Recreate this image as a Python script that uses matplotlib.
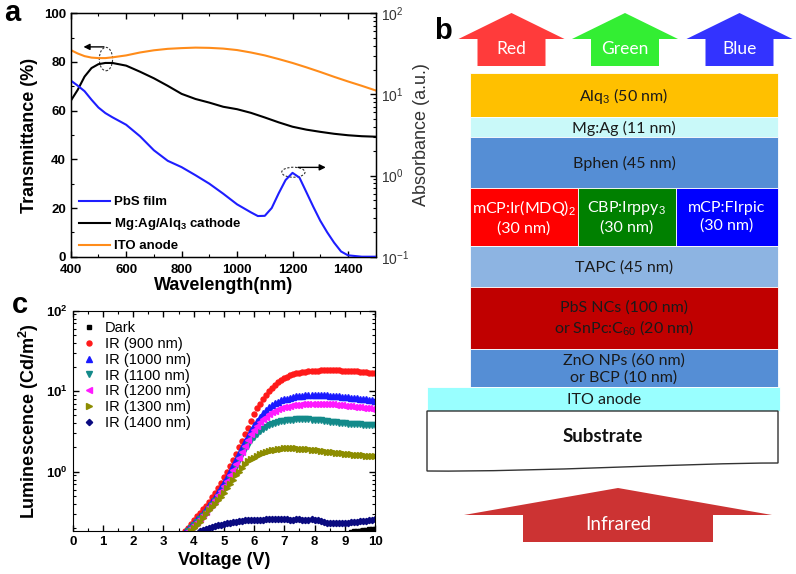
import matplotlib
matplotlib.use('Agg')
import matplotlib.pyplot as plt
import numpy as np
from matplotlib.patches import Polygon, Rectangle, Ellipse, PathPatch
from matplotlib.path import Path
from matplotlib.ticker import MultipleLocator, LogLocator, FuncFormatter, NullFormatter

plt.rcParams['font.family'] = ['Liberation Sans', 'DejaVu Sans']
plt.rcParams['mathtext.fontset'] = 'custom'
plt.rcParams['mathtext.rm'] = 'Liberation Sans'
plt.rcParams['mathtext.it'] = 'Liberation Sans:italic'
plt.rcParams['mathtext.bf'] = 'Liberation Sans:bold'

# ---------------- Panel a data ----------------
wl_T = [400, 425, 450, 475, 500, 525, 550, 600, 650, 700, 750, 800, 850, 900, 950,
        1000, 1050, 1100, 1150, 1200, 1250, 1300, 1350, 1400, 1450, 1500]
T_cathode = [64.0, 68.5, 74.0, 77.5, 79.1, 79.6, 79.6, 78.5, 76.0, 73.3, 70.2, 66.9, 64.8,
             63.3, 61.6, 60.6, 59.1, 57.2, 55.2, 53.4, 52.2, 51.3, 50.5, 49.9, 49.5, 49.3]
T_ito = [84.9, 83.5, 82.4, 81.8, 81.6, 81.6, 81.9, 82.7, 83.9, 84.8, 85.4, 85.7, 85.9,
         85.8, 85.5, 84.9, 83.9, 82.7, 81.2, 79.6, 77.8, 75.9, 73.9, 72.0, 70.2, 68.3]

wl_A = [400, 425, 450, 475, 500, 525, 550, 600, 650, 700, 750, 800, 850, 900, 950, 1000,
        1050, 1075, 1100, 1125, 1150, 1175, 1200, 1225, 1250, 1275, 1300, 1325, 1350,
        1375, 1400, 1450, 1500]
A_pbs = [14.86, 12.85, 10.96, 8.61, 6.90, 5.89, 5.24, 4.23, 3.05, 2.05, 1.52, 1.27, 1.01,
         0.794, 0.598, 0.442, 0.352, 0.317, 0.319, 0.398, 0.603, 0.881, 1.08, 0.944, 0.624,
         0.412, 0.278, 0.200, 0.149, 0.116, 0.104, 0.100, 0.100]

legend_a = ['PbS film', r'Mg:Ag/Alq$_\mathbf{3}$ cathode', 'ITO anode']

# ---------------- Panel c data ----------------
volt = np.round(np.arange(0, 10.05, 0.1), 1)
lum_start = {'Dark': 9.2, '900': 3.6, '1000': 3.7, '1100': 3.8, '1200': 3.8, '1300': 3.9, '1400': 4.2}
lum_dark = [0.180, 0.182, 0.184, 0.186, 0.188, 0.190, 0.192, 0.193, 0.194]
lum_900 = [0.17, 0.185, 0.20, 0.225, 0.25, 0.28, 0.31, 0.34, 0.38, 0.42, 0.48, 0.55, 0.63, 0.73,
           0.85, 1.0, 1.18, 1.4, 1.68, 2.0, 2.4, 2.9, 3.5, 4.3, 5.2, 6.1, 7.0, 7.9, 8.9, 10.0,
           11.0, 12.0, 12.9, 13.7, 14.5, 15.1, 15.7, 16.2, 16.6, 17.0, 17.3, 17.5, 17.7, 17.9,
           18.0, 18.0, 18.1, 18.1, 18.2, 18.2, 18.2, 18.1, 18.1, 18.0, 18.0, 17.9, 17.8, 17.7,
           17.6, 17.5, 17.3, 17.2, 17.0, 16.9, 16.7]
lum_1000 = [0.18, 0.195, 0.21, 0.23, 0.255, 0.28, 0.31, 0.345, 0.385, 0.43, 0.49, 0.56, 0.65,
            0.75, 0.87, 1.02, 1.2, 1.42, 1.7, 2.0, 2.4, 2.8, 3.3, 3.8, 4.3, 4.8, 5.3, 5.8, 6.3,
            6.7, 7.1, 7.4, 7.7, 7.9, 8.1, 8.3, 8.45, 8.6, 8.7, 8.8, 8.9, 8.95, 9.0, 9.0, 9.0,
            8.95, 8.9, 8.85, 8.8, 8.75, 8.7, 8.6, 8.55, 8.5, 8.4, 8.35, 8.25, 8.2, 8.1, 8.0,
            7.9, 7.8, 7.7, 7.6]
lum_1100 = [0.185, 0.2, 0.215, 0.235, 0.255, 0.28, 0.31, 0.345, 0.385, 0.43, 0.48, 0.54, 0.61,
            0.7, 0.81, 0.95, 1.15, 1.4, 1.65, 1.9, 2.15, 2.45, 2.7, 2.95, 3.2, 3.4, 3.6, 3.8,
            3.95, 4.05, 4.15, 4.25, 4.3, 4.35, 4.4, 4.45, 4.5, 4.5, 4.5, 4.48, 4.46, 4.43, 4.4,
            4.37, 4.33, 4.29, 4.25, 4.2, 4.15, 4.1, 4.07, 4.04, 4.0, 3.97, 3.94, 3.92, 3.9,
            3.88, 3.85, 3.82, 3.8, 3.77, 3.75]
lum_1200 = [0.185, 0.2, 0.215, 0.235, 0.26, 0.29, 0.32, 0.36, 0.4, 0.45, 0.51, 0.58, 0.66,
            0.77, 0.9, 1.05, 1.25, 1.5, 1.75, 2.1, 2.5, 2.9, 3.3, 3.7, 4.1, 4.5, 4.85, 5.2, 5.5,
            5.75, 5.95, 6.15, 6.3, 6.45, 6.55, 6.65, 6.75, 6.8, 6.85, 6.9, 6.95, 7.0, 7.0, 7.0,
            6.95, 6.95, 6.9, 6.9, 6.85, 6.8, 6.75, 6.7, 6.6, 6.55, 6.5, 6.45, 6.35, 6.3, 6.2,
            6.15, 6.1, 6.05, 6.0]
lum_1300 = [0.185, 0.2, 0.22, 0.24, 0.265, 0.295, 0.33, 0.36, 0.4, 0.44, 0.49, 0.55, 0.62,
            0.7, 0.8, 0.9, 1.0, 1.12, 1.24, 1.35, 1.43, 1.5, 1.57, 1.64, 1.7, 1.75, 1.8, 1.85,
            1.88, 1.91, 1.93, 1.95, 1.96, 1.96, 1.95, 1.95, 1.94, 1.93, 1.92, 1.9, 1.88, 1.86,
            1.84, 1.82, 1.8, 1.78, 1.76, 1.74, 1.72, 1.7, 1.69, 1.68, 1.66, 1.65, 1.63, 1.62,
            1.6, 1.59, 1.58, 1.57, 1.56, 1.55]
lum_1400 = [0.185, 0.19, 0.195, 0.2, 0.205, 0.21, 0.215, 0.22, 0.225, 0.23, 0.233, 0.237,
            0.24, 0.243, 0.247, 0.25, 0.251, 0.252, 0.252, 0.252, 0.253, 0.254, 0.255, 0.256,
            0.258, 0.26, 0.26, 0.259, 0.257, 0.255, 0.254, 0.254, 0.255, 0.255, 0.254, 0.253,
            0.254, 0.255, 0.254, 0.25, 0.243, 0.237, 0.232, 0.23, 0.229, 0.229, 0.23, 0.23,
            0.231, 0.233, 0.235, 0.237, 0.24, 0.242, 0.245, 0.247, 0.25, 0.253, 0.256]
lum_labels = ['Dark', 'IR (900 nm)', 'IR (1000 nm)', 'IR (1100 nm)', 'IR (1200 nm)',
              'IR (1300 nm)', 'IR (1400 nm)']

# ---------------- Panel b (schematic) ----------------
layer_names = [r'Alq$_3$ (50 nm)', 'Mg:Ag (11 nm)', 'Bphen (45 nm)', None,
               'TAPC (45 nm)', 'PbS NCs (100 nm)\nor SnPc:C$_{60}$ (20 nm)',
               'ZnO NPs (60 nm)\nor BCP (10 nm)', 'ITO anode']
layer_colors = ['#FFC000', '#C9F9F9', '#558ED5', None, '#8DB4E2', '#C00000', '#558ED5', '#99FFFF']
eml_names = [r'mCP:Ir(MDQ)$_2$' + '\n(30 nm)', r'CBP:Irppy$_3$' + '\n(30 nm)', 'mCP:FIrpic\n(30 nm)']
eml_colors = ['#FF0000', '#008000', '#0000FF']
emit_names = ['Red', 'Green', 'Blue']
emit_colors = ['#FF3B3B', '#33EE33', '#3333FF']

fig = plt.figure(figsize=(7.96, 5.74), dpi=100)

# schematic axes in pixel coordinates
axb = fig.add_axes([0, 0, 1, 1])
axb.set_xlim(0, 796)
axb.set_ylim(574, 0)
axb.axis('off')
axb.patch.set_alpha(0)

bfont = ['Lato', 'DejaVu Sans']
x0, x1 = 470, 778
ys = [73, 117, 137, 188, 246, 287, 349, 387, 411]
for i, (nm, col) in enumerate(zip(layer_names, layer_colors)):
    top, bot = ys[i], ys[i + 1]
    if nm is None:
        xs = [x0, 578, 676, x1]
        for j in range(3):
            axb.add_patch(Rectangle((xs[j], top), xs[j + 1] - xs[j], bot - top,
                                    facecolor=eml_colors[j], edgecolor='white', lw=0.6))
            axb.text((xs[j] + xs[j + 1]) / 2, (top + bot) / 2, eml_names[j], color='white',
                     ha='center', va='center', fontsize=11.5, family=bfont, linespacing=1.25)
        continue
    lx0, lx1 = (427, 780) if nm == 'ITO anode' else (x0, x1)
    axb.add_patch(Rectangle((lx0, top), lx1 - lx0, bot - top, facecolor=col,
                            edgecolor='white', lw=0.6))
    axb.text((lx0 + lx1) / 2 if nm != 'ITO anode' else 604, (top + bot) / 2 + 1, nm,
             color='#1a1a1a', ha='center', va='center', fontsize=11.5, family=bfont,
             linespacing=1.25)

# substrate
verts = [(427, 411), (778, 411), (778, 463), (690, 463), (540, 472), (427, 471), (427, 411)]
codes = [Path.MOVETO, Path.LINETO, Path.LINETO, Path.CURVE4, Path.CURVE4, Path.CURVE4, Path.CLOSEPOLY]
axb.add_patch(PathPatch(Path(verts, codes), facecolor='white', edgecolor='#333333', lw=1.0))
axb.text(603, 437, 'Substrate', ha='center', va='center', fontsize=13.5, fontweight='bold',
         family=bfont, color='#111111')


def up_arrow(cx, hw, sw, tip, base, bottom, color):
    pts = [(cx, tip), (cx + hw, base), (cx + sw, base), (cx + sw, bottom),
           (cx - sw, bottom), (cx - sw, base), (cx - hw, base)]
    axb.add_patch(Polygon(pts, closed=True, facecolor=color, edgecolor='none'))


centers = [511.5, 625, 739.5]
for cx, nm, col in zip(centers, emit_names, emit_colors):
    up_arrow(cx, 53, 34, 13, 39, 66, col)
    axb.text(cx, 49, nm, color='white', ha='center', va='center', fontsize=12.5, family=bfont)

up_arrow(618, 154, 95, 488, 515, 542, '#CC3333')
axb.text(618, 525, 'Infrared', color='white', ha='center', va='center', fontsize=13.5, family=bfont)

# ---------------- Panel a ----------------
ax = fig.add_axes([70.7 / 796, 1 - 256.7 / 574, 305 / 796, 243.4 / 574])
ax2 = ax.twinx()
l2, = ax.plot(wl_T, T_cathode, color='black', lw=1.5)
l3, = ax.plot(wl_T, T_ito, color='#FF8C1A', lw=1.5)
l1, = ax2.plot(wl_A, A_pbs, color='#1E1EFF', lw=1.5)
ax.set_xlim(400, 1500)
ax.set_ylim(0, 100)
ax2.set_yscale('log')
ax2.set_ylim(0.1, 100)
ax.xaxis.set_major_locator(MultipleLocator(200))
ax.xaxis.set_minor_locator(MultipleLocator(100))
ax.yaxis.set_major_locator(MultipleLocator(20))
ax.yaxis.set_minor_locator(MultipleLocator(10))
ax.tick_params(which='both', direction='in', top=True, labelsize=9.5)
ax.tick_params(axis='x', pad=5)
ax.tick_params(which='major', length=4, width=1)
ax.tick_params(which='minor', length=2.5, width=0.8)
for t in ax.get_xticklabels() + ax.get_yticklabels():
    t.set_fontweight('bold')
ax2.tick_params(which='both', direction='in', labelsize=10, labelcolor='#333333')
ax2.tick_params(which='major', length=4, width=1)
ax2.tick_params(which='minor', length=2.5, width=0.8)
ax2.yaxis.set_minor_locator(LogLocator(base=10, subs=np.arange(2, 10)))
ax2.yaxis.set_minor_formatter(NullFormatter())
ax.set_xlabel('Wavelength(nm)', fontsize=13, fontweight='bold', labelpad=1)
ax.set_ylabel('Transmittance (%)', fontsize=13, fontweight='bold', labelpad=4)
ax2.set_ylabel('Absorbance (a.u.)', fontsize=13, color='#333333', labelpad=3)
for s in ax.spines.values():
    s.set_linewidth(1.0)

leg = ax2.legend([l1, l2, l3], legend_a, loc='lower left', bbox_to_anchor=(0.0, -0.015),
                 frameon=False, prop={'weight': 'bold', 'size': 9.5}, handlelength=2.4,
                 handletextpad=0.3, labelspacing=0.6, borderaxespad=0.2)

# annotations (ellipses and arrows)
ax.add_patch(Ellipse((527, 81.2), 48, 9.6, fill=False, ls=(0, (2, 1.5)), lw=0.8, ec='#333333'))
ax.annotate('', xy=(436, 86.2), xytext=(530, 86.2),
            arrowprops=dict(arrowstyle='-|>', color='black', lw=1.0, mutation_scale=9))
ax.add_patch(Ellipse((1203, 34.7), 84, 4.1, fill=False, ls=(0, (2, 1.5)), lw=0.8, ec='#333333'))
ax.annotate('', xy=(1330, 36.7), xytext=(1210, 36.7),
            arrowprops=dict(arrowstyle='-|>', color='black', lw=1.0, mutation_scale=9))

# ---------------- Panel c ----------------
axc = fig.add_axes([72.7 / 796, 1 - 530.7 / 574, 302.3 / 796, 220 / 574])
series = [('Dark', lum_dark, 's', 'black', 3.2),
          ('900', lum_900, 'o', '#FF1A1A', 3.6),
          ('1000', lum_1000, '^', '#1A1AFF', 4.2),
          ('1100', lum_1100, 'v', '#138A8A', 4.2),
          ('1200', lum_1200, '<', '#FF1AFF', 4.2),
          ('1300', lum_1300, '>', '#8C8C00', 4.2),
          ('1400', lum_1400, 'D', '#0A0A80', 3.2)]
for (key, vals, mk, col, ms), lab in zip(series, lum_labels):
    i0 = int(round(lum_start[key] * 10))
    v = volt[i0:i0 + len(vals)]
    axc.plot(v, vals, ls='none', marker=mk, color=col, ms=ms, mec=col, label=lab, clip_on=True)
axc.set_yscale('log')
axc.set_xlim(0, 10)
axc.set_ylim(0.185, 100)
axc.xaxis.set_major_locator(MultipleLocator(1))
axc.xaxis.set_minor_locator(MultipleLocator(0.5))
axc.yaxis.set_major_locator(LogLocator(base=10))
axc.yaxis.set_minor_locator(LogLocator(base=10, subs=np.arange(2, 10)))
axc.yaxis.set_major_formatter(FuncFormatter(lambda y, p: r'$\mathbf{10^{%d}}$' % int(round(np.log10(y)))))
axc.yaxis.set_minor_formatter(NullFormatter())
axc.tick_params(which='both', direction='in', top=True, right=True, labelsize=9.5)
axc.tick_params(which='major', length=4, width=1)
axc.tick_params(which='minor', length=2.5, width=0.8)
for t in axc.get_xticklabels():
    t.set_fontweight('bold')
axc.set_xlabel('Voltage (V)', fontsize=13, fontweight='bold', labelpad=3)
axc.set_ylabel(r'Luminescence (Cd/m$^\mathbf{2}$)', fontsize=13, fontweight='bold', labelpad=4)
axc.legend(loc='upper left', frameon=False, fontsize=10.5, handlelength=0.8, handletextpad=0.7,
           labelspacing=0.13, borderaxespad=0.3, markerscale=1.0)

# panel letters
fig.text(12 / 796, 1 - 13 / 574, 'a', fontsize=21, fontweight='bold', ha='center', va='center')
fig.text(443 / 796, 1 - 31 / 574, 'b', fontsize=21, fontweight='bold', ha='center', va='center')
fig.text(20 / 796, 1 - 305 / 574, 'c', fontsize=21, fontweight='bold', ha='center', va='center')

fig.savefig('out.png', dpi=100)
